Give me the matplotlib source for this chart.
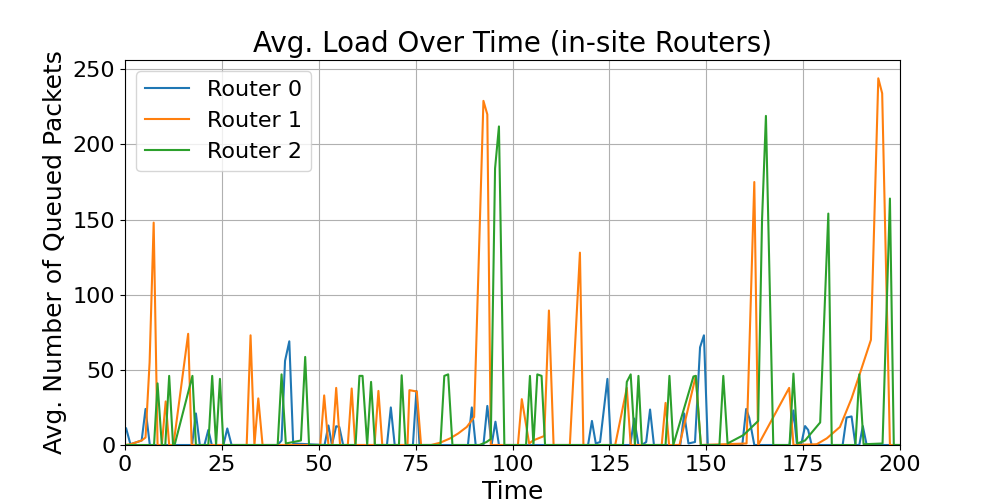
import matplotlib
matplotlib.use("Agg")
import matplotlib.pyplot as plt

r0_t = [0.3, 1.4, 4.3, 5.3, 6.4, 17.3, 18.3, 19.3, 20.5, 21.5, 22.4, 25.4, 26.4, 27.5,
        39.4, 40.4, 41.3, 42.4, 43.4, 51.5, 52.5, 53.4, 54.5, 55.3, 56.3, 67.6, 68.6, 69.6,
        74.3, 75.2, 76.0, 88.5, 89.5, 90.5, 92.5, 93.5, 94.6, 95.6, 96.5, 119.5, 120.5, 121.5,
        122.6, 124.5, 125.4, 130.4, 131.4, 132.5, 133.4, 134.5, 135.5, 136.5, 143.3, 144.3,
        145.4, 147.1, 148.4, 149.4, 150.4, 159.3, 160.3, 161.1, 162.4, 171.5, 172.5, 173.4,
        174.5, 175.5, 176.3, 177.2, 185.2, 186.2, 187.5, 188.5, 189.5, 190.4, 191.4, 200.0]
r0_v = [11, 0.5, 3, 24, 0, 0, 21, 0, 0, 10, 0, 0, 11, 0,
        0, 3, 56, 69, 1, 0, 13, 0, 12.5, 12, 0, 0, 25, 0,
        0, 36, 0, 0, 25, 0, 0, 26, 0, 15.5, 0, 0, 16, 1,
        2, 44, 0, 0, 17.6, 0, 0, 2, 23.6, 0, 0, 21,
        1, 2, 65, 73, 0, 0, 24, 18, 0, 0, 23, 0.5,
        0.5, 12.6, 10, 0, 0, 18.3, 19, 0, 0, 12.6, 0, 0]

r1_t = [0.0, 1.4, 4.3, 5.3, 6.35, 7.4, 8.4, 9.5, 10.5, 11.4, 12.5, 16.3, 17.2, 31.4, 32.4,
        33.4, 34.4, 35.5, 50.4, 51.4, 52.5, 53.5, 54.5, 55.5, 57.5, 58.5, 59.4, 64.4, 65.4,
        66.4, 72.9, 73.4, 75.3, 76.4, 79.0, 81.3, 83.9, 86.0, 88.2, 90.1, 92.5, 93.5, 94.4,
        101.4, 102.4, 104.3, 105.3, 108.2, 109.4, 110.6, 114.8, 117.4, 118.3, 126.5, 129.5,
        130.5, 138.5, 139.5, 140.4, 143.1, 147.3, 148.6, 160.4, 162.4, 163.4, 171.4, 172.5,
        178.5, 181.1, 184.5, 187.5, 189.7, 192.5, 194.4, 195.4, 197.4, 200.0]
r1_v = [0, 0.5, 3, 5, 55, 148, 0, 0, 29, 0, 0, 74, 0, 0, 73,
        0, 31, 0, 0, 33, 0, 0, 38, 0, 0, 37.6, 0, 0, 36,
        0, 0, 36.5, 35.6, 0, 0, 1.5, 4.4, 7.7, 12, 18.6, 229, 220, 0,
        0, 30.5, 1, 3, 6, 89.5, 0, 0, 128, 0, 0, 38,
        0, 0, 28, 0, 0, 46, 0, 1, 175, 0, 38, 0,
        0.5, 4.4, 12, 31, 48, 70, 244, 234, 0, 0]

r2_t = [0.0, 7.5, 8.4, 9.5, 10.4, 11.4, 12.4, 12.8, 17.4, 18.3, 21.5, 22.5, 23.5, 24.5, 25.4,
        39.4, 40.4, 41.5, 45.4, 46.5, 47.5, 59.5, 60.5, 61.3, 62.5, 63.5, 64.5, 70.7, 71.4,
        72.4, 81.4, 82.4, 83.4, 84.5, 91.5, 93.3, 94.4, 95.5, 96.5, 97.9, 103.5, 104.5, 105.4,
        106.4, 107.5, 108.4, 128.5, 129.5, 130.5, 131.6, 132.5, 133.4, 139.5, 140.5, 141.5,
        146.7, 147.3, 148.6, 153.4, 154.4, 155.5, 159.6, 163.4, 164.4, 165.4, 167.3, 171.5,
        172.5, 173.5, 175.5, 179.4, 181.5, 182.4, 188.5, 189.5, 190.6, 195.5, 197.4, 198.4,
        200.0]
r2_v = [0, 0, 41, 0, 0, 46, 0, 0, 46, 0, 0, 46, 0, 44, 0,
        0, 47, 1, 3, 58.6, 0, 0, 46, 46, 0, 42, 0, 0, 46.4,
        0, 0, 46, 47, 0, 0, 2, 4, 184, 212, 0, 0, 46, 0,
        47, 46, 0, 0, 42, 47, 0, 46, 0, 0, 46, 0,
        45.6, 46, 0, 0, 46, 1, 6.6, 16, 150, 219, 0, 0,
        47.5, 1, 3, 15, 154, 0, 0, 47, 0.5, 1, 164, 0,
        0]

labels = ["Router 0", "Router 1", "Router 2"]

fig, ax = plt.subplots(figsize=(10, 5), dpi=100)
ax.plot(r0_t, r0_v, label=labels[0], color="#1f77b4")
ax.plot(r1_t, r1_v, label=labels[1], color="#ff7f0e")
ax.plot(r2_t, r2_v, label=labels[2], color="#2ca02c")
ax.set_xlim(0, 200)
ax.set_ylim(bottom=0)
ax.set_title("Avg. Load Over Time (in-site Routers)", fontsize=20)
ax.set_xlabel("Time", fontsize=18)
ax.set_ylabel("Avg. Number of Queued Packets", fontsize=18)
ax.tick_params(labelsize=16)
ax.grid(True)
ax.legend(fontsize=16, loc="upper left")
fig.savefig("out.png")
